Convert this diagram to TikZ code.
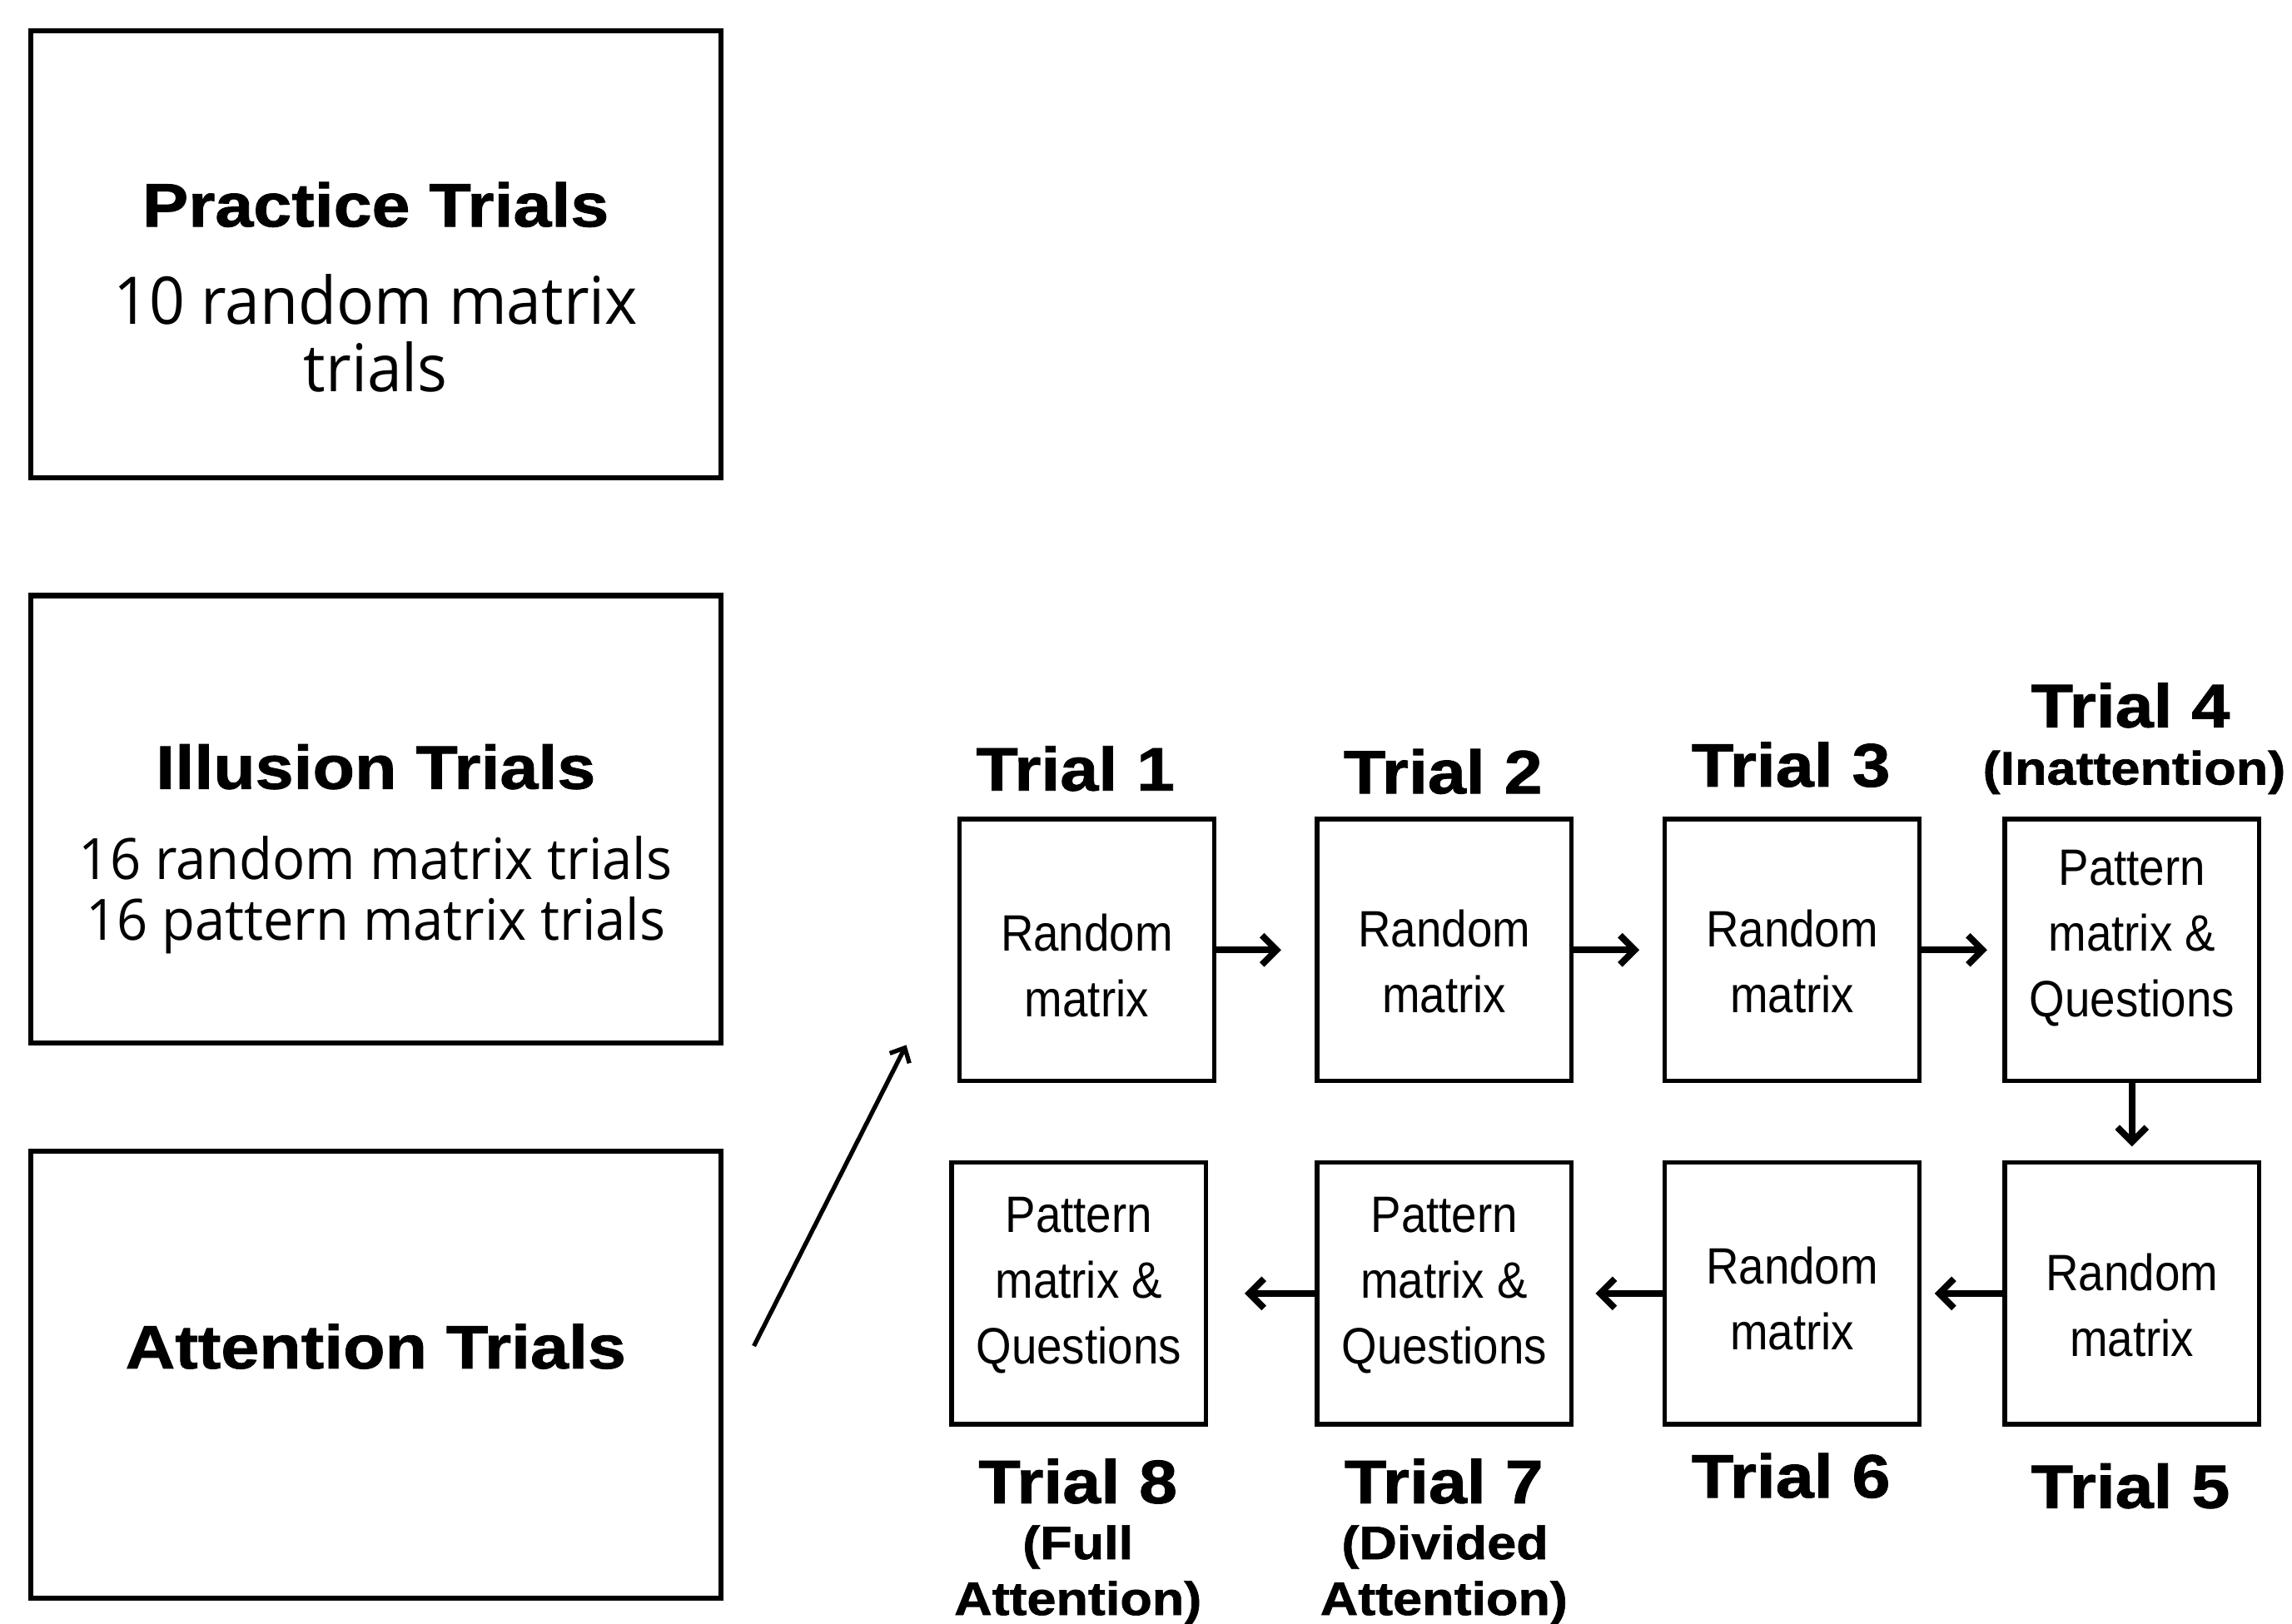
\documentclass[tikz,border=0pt]{standalone}
\usepackage{fontspec}
\setmainfont{Liberation Sans}
\newfontfamily\heavyfont[FakeStretch=1.12,FakeBold=1.2]{Liberation Sans Bold}
\newfontfamily\narrowfont[FakeStretch=0.89]{Liberation Sans}
\newfontfamily\bodyfont[FakeStretch=0.95]{Open Sans}
\usetikzlibrary{arrows.meta}
\begin{document}
\begin{tikzpicture}[x=1pt,y=-1pt,
  bigbox/.style={draw, line width=3.5pt, minimum width=472pt, minimum height=306pt, inner sep=0pt},
  trialbox/.style={draw, line width=3pt, minimum width=174pt, minimum height=179pt, inner sep=0pt},
  titletext/.style={font=\heavyfont\fontsize{42}{46}\selectfont, align=center, inner sep=0pt},
  bodytext/.style={font=\bodyfont\fontsize{45}{46}\selectfont, align=center, inner sep=0pt},
  bodysmall/.style={font=\bodyfont\fontsize{39}{41.4}\selectfont, align=center, inner sep=0pt},
  boxtext/.style={font=\narrowfont\fontsize{35}{45}\selectfont, align=center, inner sep=0pt},
  triallabel/.style={font=\heavyfont\fontsize{42}{46}\selectfont, anchor=base, inner sep=0pt},
  sublabel/.style={font=\heavyfont\fontsize{32}{38}\selectfont, anchor=base, inner sep=0pt},
  flow/.style={line width=4.5pt, -{Straight Barb[length=10pt,width=20pt,line width=4.5pt]}},
  diag/.style={line width=3pt, -{Straight Barb[length=8pt,width=15pt,line width=3pt]}}
]
\fill[white] (0,0) rectangle (1568,1111);
\useasboundingbox (0,0) rectangle (1568,1111);

% left column
\node[bigbox] (practice) at (257,174) {};
\node[titletext, yshift=34pt] (practiceT) at (practice.center) {Practice Trials};
\node[bodytext, yshift=-54.2pt] (practiceB) at (practice.center) {10 random matrix\\trials};

\node[bigbox] (illusion) at (257,560.5) {};
\node[titletext, yshift=35.8pt] (illusionT) at (illusion.center) {Illusion Trials};
\node[bodysmall, yshift=-52pt] (illusionB) at (illusion.center) {16 random matrix trials\\16 pattern matrix trials};

\node[bigbox] (attention) at (257,940.5) {};
\node[titletext, yshift=19.2pt] (attentionT) at (attention.center) {Attention Trials};

% trial boxes
\node[trialbox, label={[boxtext,yshift=-10.5pt]center:Random\\matrix}] (t1) at (743.5,650) {};
\node[trialbox, label={[boxtext,yshift=-8pt]center:Random\\matrix}] (t2) at (988,650) {};
\node[trialbox, label={[boxtext,yshift=-8pt]center:Random\\matrix}] (t3) at (1226,650) {};
\node[trialbox, label={[boxtext,yshift=8pt]center:Pattern\\matrix \&\\Questions}] (t4) at (1458.5,650) {};
\node[trialbox, label={[boxtext,yshift=-8pt]center:Random\\matrix}] (t5) at (1458.5,885) {};
\node[trialbox, label={[boxtext,yshift=-3.5pt]center:Random\\matrix}] (t6) at (1226,885) {};
\node[trialbox, label={[boxtext,yshift=5.5pt]center:Pattern\\matrix \&\\Questions}] (t7) at (988,885) {};
\node[trialbox, label={[boxtext,yshift=5.5pt]center:Pattern\\matrix \&\\Questions}] (t8) at (738,885) {};

% trial labels
\node[triallabel] (l1) at (735.7,540.9) {Trial 1};
\node[triallabel] (l2) at (987.2,542.9) {Trial 2};
\node[triallabel] (l3) at (1225.2,538.2) {Trial 3};
\node[triallabel] (l4) at (1457.5,497.6) {Trial 4};
\node[sublabel] (s4) at (1460,536.8) {(Inattention)};
\node[triallabel] (l5) at (1457.5,1031.8) {Trial 5};
\node[triallabel] (l6) at (1225.2,1024.7) {Trial 6};
\node[triallabel] (l7) at (987.8,1028.5) {Trial 7};
\node[sublabel] (s7a) at (988.5,1066.8) {(Divided};
\node[sublabel] (s7b) at (987.8,1105) {Attention)};
\node[triallabel] (l8) at (737.4,1028.5) {Trial 8};
\node[sublabel] (s8a) at (737.4,1066.8) {(Full};
\node[sublabel] (s8b) at (737.4,1105) {Attention)};

% arrows
\draw[flow, shorten >=23pt] (t1.east) -- (t2.west);
\draw[flow, shorten >=16pt] (t2.east) -- (t3.west);
\draw[flow, shorten >=10.5pt] (t3.east) -- (t4.west);
\draw[flow, shorten >=9.5pt] (t4.south) -- (t5.north);
\draw[flow, shorten >=9pt] (t5.west) -- (t6.east);
\draw[flow, shorten >=15pt] (t6.west) -- (t7.east);
\draw[flow, shorten >=25pt] (t7.west) -- (t8.east);

\coordinate (dtip) at (620,715);
\draw[diag] ([xshift=21pt,yshift=19.5pt]attention.east) -- (dtip);
\end{tikzpicture}
\end{document}
